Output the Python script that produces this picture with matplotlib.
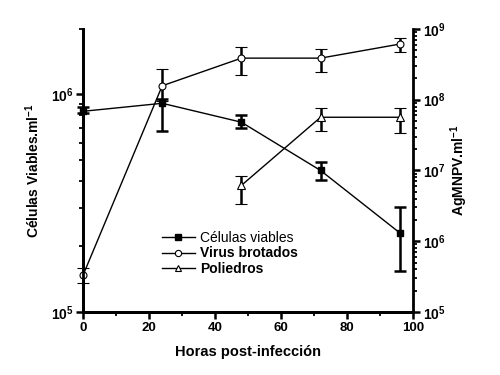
import numpy as np
import matplotlib
matplotlib.use("Agg")
import matplotlib.pyplot as plt
from matplotlib.lines import Line2D
from matplotlib.ticker import FixedLocator, FuncFormatter, LogLocator, NullFormatter, MultipleLocator

plt.rcParams['font.family'] = ['Liberation Sans', 'DejaVu Sans']
plt.rcParams['mathtext.fontset'] = 'custom'
plt.rcParams['mathtext.rm'] = 'Liberation Sans'
plt.rcParams['mathtext.bf'] = 'Liberation Sans:bold'

# datos
horas = [0, 24, 48, 72, 96]
celulas = [8.36e5, 9.1e5, 7.45e5, 4.47e5, 2.31e5]
cel_inf = [8.17e5, 6.78e5, 6.97e5, 4.05e5, 1.55e5]
cel_sup = [8.71e5, 9.5e5, 8.0e5, 4.88e5, 3.05e5]

virus = [3.3e5, 1.57e8, 3.86e8, 3.86e8, 6.1e8]
vir_inf = [2.56e5, 9.7e7, 2.2e8, 2.48e8, 4.74e8]
vir_sup = [4.17e5, 2.7e8, 5.46e8, 5.2e8, 7.55e8]

horas_pol = [48, 72, 96]
poliedros = [6.15e6, 5.64e7, 5.64e7]
pol_inf = [3.32e6, 3.66e7, 3.43e7]
pol_sup = [8.4e6, 7.5e7, 7.7e7]


def errs(v, lo, hi):
    v = np.array(v)
    return [v - np.array(lo), np.array(hi) - v]


fig = plt.figure(figsize=(5, 3.75), dpi=100)
ax = fig.add_axes([0.166, 0.168, 0.66, 0.755])
ax2 = ax.twinx()

eb = dict(color='black', lw=1, elinewidth=1.8, capsize=4.5, capthick=1.8, clip_on=False)
c1 = ax.errorbar(horas, celulas, yerr=errs(celulas, cel_inf, cel_sup), marker='s', ms=4.5,
                 mfc='black', mec='black', **eb)
c2 = ax2.errorbar(horas, virus, yerr=errs(virus, vir_inf, vir_sup), marker='o', ms=5,
                  mfc='white', mec='black', mew=0.8, **eb)
c3 = ax2.errorbar(horas_pol, poliedros, yerr=errs(poliedros, pol_inf, pol_sup), marker='^', ms=6,
                  mfc='white', mec='black', mew=0.8, **eb)
for c in (c1, c2, c3):
    for art in c.get_children():
        art.set_clip_on(False)

ax.set_yscale('log')
ax2.set_yscale('log')
ax.set_xlim(0, 100)
ax.set_ylim(1e5, 2e6)
ax2.set_ylim(1e5, 1e9)

def pow_fmt(v, pos):
    e = int(round(np.log10(v)))
    return r'$\mathbf{10^{%d}}$' % e

ax.yaxis.set_major_locator(FixedLocator([1e5, 1e6]))
ax.yaxis.set_major_formatter(FuncFormatter(pow_fmt))
ax.yaxis.set_minor_locator(LogLocator(base=10, subs=np.arange(2, 10)))
ax.yaxis.set_minor_formatter(NullFormatter())
ax2.yaxis.set_major_locator(FixedLocator([1e5, 1e6, 1e7, 1e8, 1e9]))
ax2.yaxis.set_major_formatter(FuncFormatter(pow_fmt))
ax2.yaxis.set_minor_locator(LogLocator(base=10, subs=np.arange(2, 10)))
ax2.yaxis.set_minor_formatter(NullFormatter())

ax.xaxis.set_major_locator(MultipleLocator(20))
ax.xaxis.set_minor_locator(MultipleLocator(10))

for a in (ax, ax2):
    a.spines['top'].set_visible(False)
    for s in ('left', 'right', 'bottom'):
        a.spines[s].set_linewidth(2)
    a.tick_params(which='major', direction='out', length=5, width=1.8, labelsize=10, pad=2)
    a.tick_params(which='minor', direction='out', length=3, width=1.3)
ax.spines['right'].set_visible(False)
ax.tick_params(axis='x', labelsize=9.5)

for lab in ax.get_xticklabels():
    lab.set_fontweight('bold')

ax.set_xlabel('Horas post-infección', fontsize=10.5, fontweight='bold', labelpad=8)
ax.set_ylabel(r'Células Viables.ml$^{\mathbf{-1}}$', fontsize=10, fontweight='bold', labelpad=6)
ax2.set_ylabel(r'AgMNPV.ml$^{\mathbf{-1}}$', fontsize=10, fontweight='bold', labelpad=2)

h1 = Line2D([], [], color='black', lw=1, marker='s', ms=4, mfc='black', mec='black')
h2 = Line2D([], [], color='black', lw=1, marker='o', ms=4.5, mfc='white', mec='black', mew=0.8)
h3 = Line2D([], [], color='black', lw=1, marker='^', ms=5, mfc='white', mec='black', mew=0.8)
leg = ax.legend([h1, h2, h3], ['Células viables', 'Virus brotados', 'Poliedros'],
                loc='upper left', bbox_to_anchor=(0.2, 0.33), frameon=False,
                fontsize=10, handlelength=2.4, handletextpad=0.4, labelspacing=0.1)
texts = leg.get_texts()
texts[1].set_fontweight('bold')
texts[2].set_fontweight('bold')

fig.savefig('out.png', dpi=100)
